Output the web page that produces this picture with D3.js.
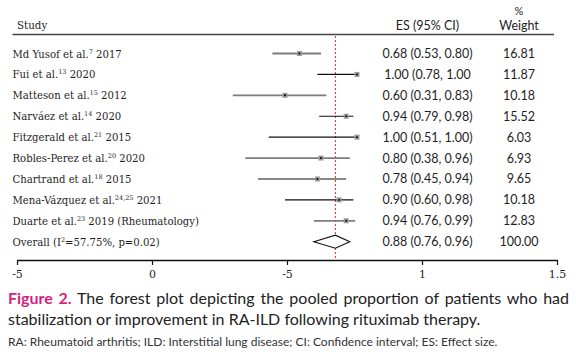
<!DOCTYPE html>
<html>
<head>
<meta charset="utf-8">
<script src="https://cdn.jsdelivr.net/npm/d3@7"></script>
<style>
  html, body { margin: 0; padding: 0; background: #fff; }
  svg { display: block; }
</style>
</head>
<body>
<div class="chart"></div>
<script>
const WIDTH = 576;
const HEIGHT = 352;

// study rows
var studies = ["Md Yusof et al.", "Fui et al.", "Matteson et al.", "Narváez et al.",
    "Fitzgerald et al.", "Robles-Perez et al.", "Chartrand et al.", "Mena-Vázquez et al.",
    "Duarte et al."];
var refs = ["7", "13", "15", "14", "21", "20", "18", "24,25", "23"];
var years = ["2017", "2020", "2012", "2020", "2015", "2020", "2015", "2021", "2019 (Rheumatology)"];
var es = [0.68, 1.00, 0.60, 0.94, 1.00, 0.80, 0.78, 0.90, 0.94];
var lower = [0.53, 0.78, 0.31, 0.79, 0.51, 0.38, 0.45, 0.60, 0.76];
var upper = [0.80, 1.00, 0.83, 0.98, 1.00, 0.96, 0.94, 0.98, 0.99];
var esText = ["0.68 (0.53, 0.80)", "1.00 (0.78, 1.00", "0.60 (0.31, 0.83)", "0.94 (0.79, 0.98)",
    "1.00 (0.51, 1.00)", "0.80 (0.38, 0.96)", "0.78 (0.45, 0.94)", "0.90 (0.60, 0.98)",
    "0.94 (0.76, 0.99)"];
var weights = ["16.81", "11.87", "10.18", "15.52", "6.03", "6.93", "9.65", "10.18", "12.83"];

// pooled estimate
var overall = { es: 0.88, lower: 0.76, upper: 0.96, text: "0.88 (0.76, 0.96)", weight: "100.00" };

// axis as printed
var axisTicks = [-0.5, 0, 0.5, 1, 1.5];
var axisLabels = ["-5", "0", "-5", "1", "1.5"];

// rows whose CI line is drawn in grey in the original
var GREY_ROWS = [0, 2, 5, 8];

var SERIF = "'DejaVu Serif', serif";
var SANS = "Lato, 'Open Sans', sans-serif";
var INK = "#1e1e1e";

var svg = d3.select('.chart').append('svg')
    .attr('width', WIDTH)
    .attr('height', HEIGHT);

var rowIds = d3.range(studies.length + 1);
var yScale = d3.scalePoint().domain(rowIds).range([53.5, 241.7]);
var xScale = d3.scaleLinear().domain([0, 1]).range([177, 357]);
var axisScale = d3.scaleLinear().domain([-0.5, 1.5]).range([17, 557]);

var ES_X = 427.5, WT_X = 519;

// header
var head = svg.append('g').attr('fill', INK);
head.append('text').attr('x', 17).attr('y', 29).attr('font-family', SERIF)
    .attr('font-size', 10.3).text('Study');
head.append('text').attr('x', ES_X).attr('y', 29.5).attr('text-anchor', 'middle')
    .attr('font-family', SANS).attr('font-size', 12.5).text('ES (95% CI)');
head.append('text').attr('x', WT_X).attr('y', 14.5).attr('text-anchor', 'middle')
    .attr('font-family', SANS).attr('font-size', 11).text('%');
head.append('text').attr('x', WT_X).attr('y', 30).attr('text-anchor', 'middle')
    .attr('font-family', SANS).attr('font-size', 12.5).text('Weight');
svg.append('line').attr('x1', 12.5).attr('x2', 554).attr('y1', 34.5).attr('y2', 34.5)
    .attr('stroke', '#444').attr('stroke-width', 1.3);

// study labels
var labels = svg.append('g').attr('font-family', SERIF).attr('font-size', 10.1).attr('fill', INK);
studies.forEach(function (s, i) {
    var t = labels.append('text').attr('x', 12.5).attr('y', yScale(i) + 4);
    t.append('tspan').text(s);
    t.append('tspan').attr('font-size', 6.5).attr('dy', -4).text(refs[i]);
    t.append('tspan').attr('dy', 4).text(' ' + years[i]);
});
var ov = labels.append('text').attr('x', 12.5).attr('y', yScale(studies.length) + 4);
ov.append('tspan').text('Overall (I');
ov.append('tspan').attr('font-size', 6.5).attr('dy', -4).text('2');
ov.append('tspan').attr('dy', 4).text('=57.75%, p=0.02)');

// ES and weight columns
var cols = svg.append('g').attr('font-family', SANS).attr('font-size', 12.5)
    .attr('fill', INK).attr('text-anchor', 'middle');
esText.concat([overall.text]).forEach(function (s, i) {
    cols.append('text').attr('x', ES_X).attr('y', yScale(i) + 4.5).text(s);
});
weights.concat([overall.weight]).forEach(function (s, i) {
    cols.append('text').attr('x', WT_X).attr('y', yScale(i) + 4.5).text(s);
});

// reference line at pooled estimate
svg.append('line')
    .attr('x1', xScale(overall.es)).attr('x2', xScale(overall.es))
    .attr('y1', 36).attr('y2', 259)
    .attr('stroke', '#ff2020').attr('stroke-width', 1)
    .attr('stroke-dasharray', '2,2');

// CI lines
var ci = svg.append('g');
studies.forEach(function (s, i) {
    var grey = GREY_ROWS.indexOf(i) >= 0;
    ci.append('line')
        .attr('x1', xScale(lower[i])).attr('x2', xScale(upper[i]))
        .attr('y1', yScale(i)).attr('y2', yScale(i))
        .attr('stroke', grey ? '#7d7d7d' : '#111')
        .attr('stroke-width', grey ? 1.8 : 1.1);
});

// point estimates
var pts = svg.append('g');
pts.selectAll('rect').data(es).enter().append('rect')
    .attr('x', function (d) { return xScale(d) - 2.5; })
    .attr('y', function (d, i) { return yScale(i) - 2.5; })
    .attr('width', 5).attr('height', 5)
    .attr('fill', '#9a9a9a');
pts.selectAll('circle').data(es).enter().append('circle')
    .attr('cx', function (d) { return xScale(d); })
    .attr('cy', function (d, i) { return yScale(i); })
    .attr('r', 1)
    .attr('fill', '#000');

// pooled diamond
var yo = yScale(studies.length);
svg.append('path')
    .attr('d', 'M' + xScale(overall.lower) + ',' + yo +
        'L' + xScale(overall.es) + ',' + (yo - 6.5) +
        'L' + xScale(overall.upper) + ',' + yo +
        'L' + xScale(overall.es) + ',' + (yo + 6.5) + 'Z')
    .attr('fill', '#fff').attr('stroke', '#111').attr('stroke-width', 1.1);

// x axis
var axis = d3.axisBottom(axisScale)
    .tickValues(axisTicks)
    .tickSize(5)
    .tickSizeOuter(0)
    .tickFormat(function (d, i) { return axisLabels[i]; });
var ag = svg.append('g').attr('transform', 'translate(0,260)').call(axis);
ag.select('.domain').attr('stroke', '#111').attr('stroke-width', 1.3);
ag.selectAll('.tick line').attr('stroke', '#111').attr('stroke-width', 1.2);
ag.selectAll('.tick text').attr('font-family', SERIF).attr('font-size', 11)
    .attr('fill', INK).attr('dy', '0.95em');

// caption, justified on its first line
var capFont = 16;
var capLine1 = ' The forest plot depicting the pooled proportion of patients who had';
var cap1 = svg.append('text').attr('x', 8).attr('y', 304)
    .attr('font-family', SANS).attr('font-size', capFont).attr('fill', '#222');
cap1.append('tspan').attr('font-weight', 'bold').attr('fill', '#d4247e').text('Figure 2.');
cap1.append('tspan').text(capLine1);
var w1 = cap1.node().getComputedTextLength();
var spaces = ('Figure 2.' + capLine1).split(' ').length - 1;
cap1.attr('word-spacing', Math.max(0, (569 - 8 - w1) / spaces));

svg.append('text').attr('x', 8).attr('y', 325)
    .attr('font-family', SANS).attr('font-size', capFont).attr('fill', '#222')
    .text('stabilization or improvement in RA-ILD following rituximab therapy.');

svg.append('text').attr('x', 8).attr('y', 346)
    .attr('font-family', SANS).attr('font-size', 12).attr('fill', '#333')
    .text('RA: Rheumatoid arthritis; ILD: Interstitial lung disease; CI: Confidence interval; ES: Effect size.');
</script>
</body>
</html>
